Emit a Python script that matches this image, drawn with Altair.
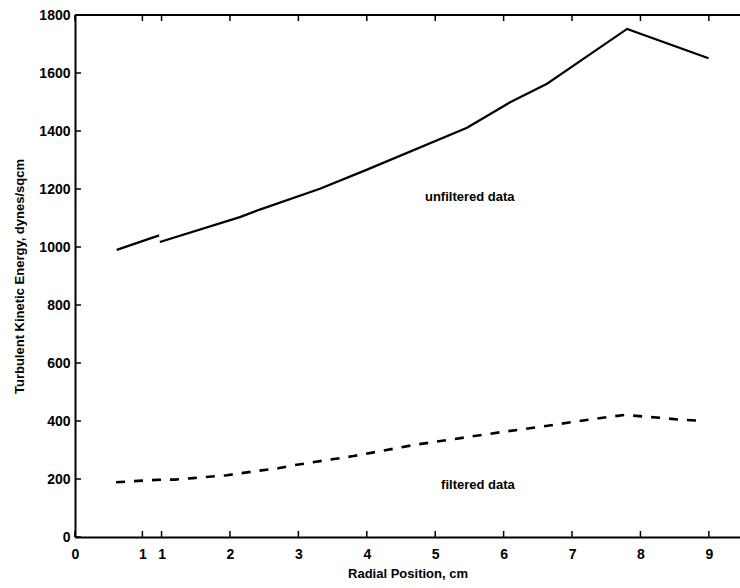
import altair as alt
import pandas as pd

# ---- data (x in plotted axis units; second axis segment is offset by 0.265) ----
SOLID_A_X = [0.61, 1.23]
SOLID_A_Y = [990, 1040]
SOLID_B_X = [1.24, 2.41, 2.70, 3.58, 4.26, 5.73, 6.36, 6.90, 7.43, 8.07, 9.26]
SOLID_B_Y = [1017, 1103, 1129, 1201, 1266, 1411, 1499, 1563, 1649, 1752, 1651]
DASH_X = [0.60, 1.19, 1.46, 1.73, 2.22, 2.70, 2.97, 3.19, 3.73, 4.07, 4.46, 4.97,
          6.21, 6.77, 7.26, 7.77, 8.03, 8.29, 8.55, 8.82, 9.11]
DASH_Y = [189, 197, 198, 203, 213, 229, 237, 247, 267, 279, 296, 318,
          361, 379, 396, 413, 421, 416, 411, 405, 401]

XTICK_POS = [0, 0.985, 1.265, 2.265, 3.265, 4.265, 5.265, 6.265, 7.265, 8.265, 9.265]
XTICK_LABELS = ["0", "1", "1", "2", "3", "4", "5", "6", "7", "8", "9"]
YTICKS = [0, 200, 400, 600, 800, 1000, 1200, 1400, 1600, 1800]

LABELS = ["unfiltered data", "filtered data"]
LABEL_X = [5.77, 5.89]
LABEL_Y = [1171, 178]

W, H = 665, 522
FONT = "Liberation Sans"

solid = pd.DataFrame({
    "x": SOLID_A_X + SOLID_B_X,
    "y": SOLID_A_Y + SOLID_B_Y,
    "seg": ["a"] * len(SOLID_A_X) + ["b"] * len(SOLID_B_X),
})
dash = pd.DataFrame({"x": DASH_X, "y": DASH_Y})
xt = pd.DataFrame({"x": XTICK_POS, "lab": XTICK_LABELS})
yt = pd.DataFrame({"y": YTICKS})
lab = pd.DataFrame({"x": LABEL_X, "y": LABEL_Y, "t": LABELS})

label_map = "{" + ",".join(f"'{p}':'{l}'" for p, l in zip(XTICK_POS, XTICK_LABELS)) + "}"

xscale = alt.Scale(domain=[0, 9.72], nice=False, zero=False)
yscale = alt.Scale(domain=[0, 1800], nice=False)
xaxis = alt.Axis(values=XTICK_POS, labelExpr=f"{label_map}[datum.value + '']",
                 ticks=False, grid=False, domainColor="black", domainWidth=2,
                 labelFlush=False,
                 labelFont=FONT, labelFontSize=14, labelFontWeight="bold", labelColor="black",
                 labelPadding=10, title="Radial Position, cm", titleFont=FONT,
                 titleFontSize=13, titleFontWeight="bold", titleColor="black", titlePadding=6)
yaxis = alt.Axis(values=YTICKS, format="d", ticks=False, grid=False, domainColor="black",
                 domainWidth=2, labelFlush=False, labelFont=FONT, labelFontSize=14,
                 labelFontWeight="bold", labelColor="black", labelPadding=5,
                 title="Turbulent Kinetic Energy, dynes/sqcm", titleFont=FONT,
                 titleFontSize=13, titleFontWeight="bold", titleColor="black", titlePadding=12)


def X(f):
    return alt.X(f, type="quantitative", scale=xscale, axis=xaxis)


def Y(f):
    return alt.Y(f, type="quantitative", scale=yscale, axis=yaxis)


solid_line = alt.Chart(solid).mark_line(color="black", strokeWidth=2.2).encode(
    x=X("x"), y=Y("y"), detail="seg:N")
dash_line = alt.Chart(dash).mark_line(color="black", strokeWidth=2.6, strokeDash=[9, 9]).encode(
    x=X("x"), y=Y("y"))
texts = alt.Chart(lab).mark_text(font=FONT, fontSize=13, fontWeight="bold", color="black").encode(
    x=X("x"), y=Y("y"), text="t:N")
xt_bottom = alt.Chart(xt).mark_rule(color="black", strokeWidth=1.5).encode(
    x=X("x"), y=alt.value(H), y2=alt.value(H - 6))
xt_top = alt.Chart(xt).mark_rule(color="black", strokeWidth=1.5).encode(
    x=X("x"), y=alt.value(0), y2=alt.value(6))
yt_left = alt.Chart(yt).mark_rule(color="black", strokeWidth=1.5).encode(
    y=Y("y"), x=alt.value(0), x2=alt.value(6))
top_border = alt.Chart(yt).mark_rule(color="black", strokeWidth=2).encode(
    x=alt.value(0), x2=alt.value(W), y=alt.value(0))

chart = alt.layer(solid_line, dash_line, texts, xt_bottom, xt_top, yt_left, top_border).properties(
    width=W, height=H,
    autosize=alt.AutoSizeParams(type="none"),
    padding={"left": 75, "top": 15, "right": 0, "bottom": 51},
    background="white",
).configure_view(stroke=None)

chart.save("out.html", embed_options={"renderer": "svg", "actions": False})
